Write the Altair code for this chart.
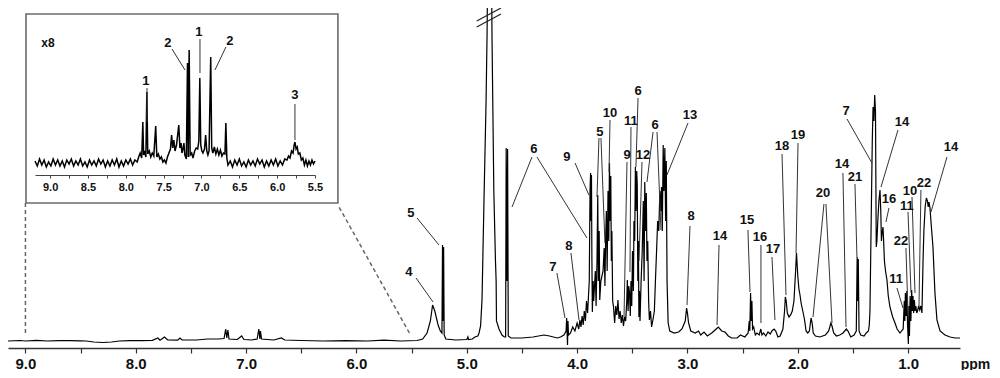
import altair as alt
import pandas as pd

# ---------------- main spectrum: (ppm, relative intensity) ----------------
aromatic = [(9.16,0),(9.05,0.5),(9.0,0),(8.9,0.6),(8.8,0),(8.7,0.4),(8.6,0.3),(8.5,0.2),(8.45,0),(8.38,-1),(8.3,-1.5),
            (8.22,-1),(8.15,0),(8.05,0.3),(7.95,0.4),(7.85,0.6),(7.8,3),(7.78,0.8),(7.74,4),(7.71,1),(7.62,0.8),(7.6,3),
            (7.58,1),(7.45,1),(7.35,2),(7.25,2),(7.2,2.5),(7.185,12),(7.175,3),(7.165,11),(7.155,2),(7.08,1.5),(7.04,5),
            (7.02,1.5),(6.95,1),(6.9,2),(6.885,12),(6.875,2),(6.87,10),(6.86,2),(6.75,1),(6.68,3),(6.65,1),(6.5,0.5),
            (6.3,0),(6.1,0.3),(5.9,0),(5.75,0.8),(5.6,0),(5.45,0.5)]
anomeric = [(5.40,2),(5.36,8),(5.33,20),(5.31,36),(5.29,30),(5.26,16),(5.24,10),(5.225,8),(5.22,96),(5.215,20),
            (5.21,94),(5.205,6),(5.19,2),(5.10,1),(5.0,1.5),(4.99,4),(4.985,1.5),(4.95,2),(4.926,4)]
water = [(4.90,5),(4.889,8),(4.875,15),(4.862,41),(4.844,141),(4.825,241),(4.816,308),(4.807,420),(4.780,420),
         (4.771,300),(4.755,150),(4.740,80),(4.734,60),(4.731,20),(4.708,12),(4.681,6),(4.66,4),(4.648,4),
         (4.643,193),(4.637,60),(4.630,192),(4.624,5),(4.60,3)]
sugar = [(4.5,3),(4.4,4),(4.3,6),(4.25,5),(4.18,3),(4.15,4),(4.12,6),
         (4.10,10),(4.095,23),(4.09,5),(4.087,-4),(4.083,20),(4.078,6),(4.06,8),(4.04,14),(4.02,10),(4.0,18),
         (3.985,12),(3.975,21),(3.965,14),(3.955,25),(3.945,16),(3.935,30),(3.925,20),(3.915,40),(3.905,28),
         (3.89,60),(3.883,150),(3.878,168),(3.874,120),(3.87,166),(3.866,80),(3.862,29),(3.855,60),(3.85,40),
         (3.835,70),(3.828,35),(3.82,80),(3.813,146),(3.808,60),(3.80,110),(3.795,41),(3.785,60),
         (3.765,70),(3.755,93),(3.748,55),(3.742,100),
         (3.735,130),(3.728,70),(3.72,150),(3.713,100),(3.707,178),(3.70,120),(3.695,165),(3.69,80),(3.685,110),
         (3.678,40),(3.67,34),(3.66,18),(3.65,35),(3.64,26),(3.63,41),(3.62,22),(3.61,30),(3.60,18),(3.59,26),
         (3.58,15),(3.57,24),(3.56,20),
         (3.55,40),(3.545,61),(3.538,30),(3.532,55),(3.525,48),(3.518,25),(3.512,60),(3.505,35),(3.498,90),
         (3.49,50),(3.485,120),
         (3.478,100),(3.472,174),(3.466,130),(3.46,170),(3.455,156),(3.45,60),(3.445,100),(3.44,24),(3.435,50),
         (3.43,20),
         (3.42,60),(3.41,90),(3.40,140),(3.393,60),(3.387,159),(3.38,110),(3.373,148),(3.367,80),(3.36,100),
         (3.352,40),(3.345,21),(3.335,30),(3.325,14),(3.315,20),(3.30,30),
         (3.29,61),(3.28,90),(3.27,120),(3.26,110),(3.25,150),(3.242,130),(3.235,154),(3.228,110),(3.22,196),
         (3.213,150),(3.205,193),(3.198,120),(3.192,180),(3.185,60),(3.175,18),(3.16,10)]
aliphatic = [(3.12,8),(3.08,9),(3.05,12),(3.02,20),(3.008,33),(3.0,28),(2.99,18),(2.97,10),(2.93,8),(2.90,10),
             (2.88,6),(2.85,9),(2.82,5),(2.78,8),(2.75,11),(2.72,14),(2.69,10),(2.66,9),(2.63,5),(2.60,3),(2.55,3),
             (2.52,6),(2.48,4),
             (2.45,8),(2.44,20),(2.435,10),(2.428,48),(2.422,20),(2.416,40),(2.41,12),(2.40,14),(2.385,6),(2.37,8),
             (2.35,6),(2.335,12),(2.325,6),(2.31,8),(2.29,5),(2.27,9),(2.25,7),(2.235,10),(2.215,12),(2.20,10),
             (2.18,4),(2.16,5),
             (2.135,12),(2.12,30),(2.113,44),(2.105,40),(2.095,28),(2.08,24),(2.065,26),(2.05,30),(2.035,40),
             (2.02,70),(2.012,88),(2.0,65),(1.99,52),(1.98,46),(1.97,38),(1.955,30),(1.94,22),(1.925,10),(1.91,8),
             (1.895,10),(1.88,23),(1.87,18),(1.86,8),(1.84,5),(1.80,4),(1.75,6),(1.72,10),(1.70,18),(1.69,15),
             (1.675,8),(1.65,5),(1.62,6),(1.59,8),(1.56,12),(1.545,10),(1.52,4),(1.49,6),(1.47,10),(1.462,84),
             (1.457,40),(1.452,82),(1.445,10),(1.43,6),(1.40,5),(1.38,8),
             (1.36,10),(1.352,16),(1.346,30),(1.335,120),(1.325,200),(1.318,234),(1.31,220),(1.303,246),(1.296,230),
             (1.289,94),(1.283,100),(1.275,120),(1.265,140),(1.255,151),(1.248,130),(1.242,100),(1.236,108),
             (1.228,114),(1.222,100),(1.215,80),(1.205,70),(1.192,61),(1.18,45),(1.165,34),(1.14,24),(1.119,18),
             (1.10,12),(1.074,8),(1.06,10),
             (1.045,12),(1.035,40),(1.03,20),(1.025,48),(1.018,25),(1.012,50),(1.005,15),(0.998,-3),(0.993,35),
             (0.988,5),(0.982,45),(0.975,20),(0.968,51),(0.962,30),(0.956,45),(0.95,28),(0.943,41),(0.937,30),
             (0.93,35),(0.922,28),(0.915,30),(0.905,35),(0.895,31),(0.885,35),(0.875,28),(0.865,80),(0.857,111),
             (0.845,135),(0.835,143),(0.825,140),(0.818,134),(0.811,139),(0.802,133),(0.79,115),(0.775,94),
             (0.757,48),(0.739,21),(0.711,10),(0.666,6),(0.62,4),(0.575,3),(0.53,3)]

# ---------------- inset (x8) spectrum ----------------
inset_left = [(9.20,2),(9.17,-3),(9.14,4),(9.11,-2),(9.08,3),(9.05,-4),(9.02,1),(8.99,-3),(8.96,4),(8.93,-2),
              (8.90,3),(8.87,-3),(8.84,2),(8.81,-4),(8.78,3),(8.75,-1),(8.72,4),(8.69,-3),(8.66,2),(8.63,-2),
              (8.60,4),(8.57,-3),(8.54,1),(8.51,-4),(8.48,3),(8.45,-2),(8.42,2),(8.39,-3),(8.36,4),(8.33,-1),
              (8.30,3),(8.27,-4),(8.24,2),(8.21,-3),(8.18,3),(8.15,-2),(8.12,4),(8.09,-4),(8.06,2),(8.03,-3),
              (8.00,3),(7.97,-1),(7.94,4),(7.91,-2),(7.88,3),(7.85,1)]
inset_peaks = [(7.83,6),(7.81,10),(7.79,5),(7.775,41),(7.765,8),(7.75,12),(7.735,6),(7.722,71),(7.71,9),(7.69,12),
               (7.67,6),(7.65,10),(7.63,7),(7.605,37),(7.59,6),(7.57,9),(7.55,4),(7.53,6),(7.51,1),(7.49,3),
               (7.47,0),(7.45,6),(7.43,10),(7.41,14),(7.395,28),(7.38,15),(7.365,23),(7.35,12),(7.33,18),(7.30,38),
               (7.285,15),(7.27,20),(7.258,10),(7.245,14),(7.232,20),(7.22,8),(7.20,4),(7.185,100),(7.175,6),
               (7.163,113),(7.15,8),(7.13,10),(7.113,5),(7.09,12),(7.07,15),(7.05,14),(7.035,22),(7.022,85),
               (7.01,18),(6.995,12),(6.981,10),(6.96,14),(6.945,28),(6.93,12),(6.915,8),(6.90,12),(6.878,106),
               (6.865,15),(6.85,10),(6.83,16),(6.81,9),(6.79,14),(6.77,8),(6.75,13),(6.73,7),(6.71,10),(6.69,9),
               (6.678,40),(6.665,5),(6.65,-2)]
inset_right = [(6.62,2),(6.59,-4),(6.56,3),(6.53,-2),(6.50,4),(6.47,-3),(6.44,1),(6.41,-4),(6.38,3),(6.35,-2),
               (6.32,2),(6.29,-3),(6.26,4),(6.23,-1),(6.20,3),(6.17,-4),(6.14,2),(6.11,-3),(6.08,3),(6.05,-2),
               (6.02,4),(5.99,-3),(5.96,2),(5.93,-2),(5.90,4),(5.87,3),(5.85,7),(5.83,5),(5.81,12),(5.79,10),
               (5.775,18),(5.765,21),(5.75,14),(5.735,16),(5.72,9),(5.70,10),(5.68,3),(5.66,5),(5.64,-2),(5.62,3),
               (5.60,-3),(5.58,2),(5.56,-2),(5.54,3),(5.52,-1),(5.50,2)]

# ---------------- peak annotations (main) ----------------
labels = ["4","5","6","9","5","10","7","8","11","9","6","12","6","13","8","14","15","16","17","18","19","20",
          "14","21","7","14","16","10","22","11","22","11","14"]
label_ppm = [5.524,5.506,4.391,4.092,3.793,3.702,4.219,4.074,3.512,3.548,3.448,3.403,3.294,2.977,2.968,2.705,
             2.461,2.343,2.225,2.143,1.998,1.772,1.600,1.482,1.563,1.056,1.174,0.983,0.856,1.011,1.065,1.110,0.612]
label_int = [69,128,192,184,209,228,74,95,220,186,250,186,216,226,125,105,121,104,92,195,206,148,177,164,230,
             219,142,150,158,135,100,62,194]
lead_x1 = [5.460,5.451,4.409,4.364,4.019,3.802,3.784,3.702,4.183,4.056,3.512,3.548,3.448,3.412,3.312,3.276,2.995,
           2.977,2.714,2.452,2.334,2.234,2.143,1.998,1.763,1.745,1.591,1.482,1.554,1.092,1.174,0.965,0.884,1.001,
           1.020,1.101,0.648]
lead_y1 = [63,123,184,184,178,203,203,221,68,88,214,179,243,179,209,209,218,115,96,111,96,84,187,198,137,137,168,
           157,222,211,133,144,151,129,93,53,184]
lead_x2 = [5.306,5.252,4.590,3.911,3.893,3.820,3.748,3.711,4.110,3.983,3.521,3.575,3.467,3.439,3.367,3.240,3.186,
           3.004,2.732,2.433,2.334,2.207,2.107,2.016,1.862,1.690,1.563,1.464,1.328,1.246,1.201,0.938,0.902,0.974,
           1.001,1.047,0.793]
lead_y2 = [39,96,134,103,146,144,98,169,23,21,69,24,174,80,159,111,166,36,16,49,18,21,46,88,24,18,14,84,178,154,
           119,48,33,48,28,33,129]

# ---------------- inset annotations ----------------
ins_labels = ["1","2","1","2","3"]
ins_lab_ppm = [7.734,7.443,7.034,6.624,5.765]
ins_lab_int = [82,120,131,122,68]
ins_lead_x1 = [7.720,7.390,7.020,6.677,5.765]
ins_lead_y1 = [75,114,124,116,59]
ins_lead_x2 = [7.720,7.218,7.020,6.822,5.765]
ins_lead_y2 = [41,93,90,93,23]

# inset frame and connectors (main-scale units)
box_ppm = [8.995, 6.168]
box_int = [138, 327]
conn_x1 = [9.0, 5.52]
conn_y1 = [8, 8]
conn_x2 = [9.0, 6.168]
conn_y2 = [138, 136]
# axis-break marks on the truncated water peak
brk_x1 = [4.91, 4.91]
brk_y1 = [320, 314]
brk_x2 = [4.69, 4.69]
brk_y2 = [333, 327]

main_ticks = [9.0,8.5,8.0,7.5,7.0,6.5,6.0,5.5,5.0,4.5,4.0,3.5,3.0,2.5,2.0,1.5,1.0]
inset_ticks = [9.0,8.75,8.5,8.25,8.0,7.75,7.5,7.25,7.0,6.75,6.5,6.25,6.0,5.75,5.5]

FONT = "Liberation Sans"
W, H = 952, 340

spectrum = aromatic + anomeric + water + sugar + aliphatic
spec_df = pd.DataFrame({"x": [p for p, _ in spectrum], "y": [v for _, v in spectrum],
                        "i": list(range(len(spectrum)))})
inset = inset_left + inset_peaks + inset_right
ins_df = pd.DataFrame({"x": [p for p, _ in inset], "y": [v for _, v in inset], "i": list(range(len(inset)))})

xs = alt.Scale(domain=[0.53, 9.158], reverse=True, nice=False, zero=False)
ys = alt.Scale(domain=[-7, 333], nice=False, zero=False)
xaxis = alt.Axis(values=main_ticks, labelExpr="datum.value % 1 === 0 ? format(datum.value, '.1f') : ''",
                 title="ppm", titleX=967, titleY=16, titleAlign="center", titleBaseline="middle",
                 titleFont=FONT, titleFontSize=14, titleFontWeight="bold", titleColor="#111",
                 labelFont=FONT, labelFontSize=15, labelFontWeight="bold", labelColor="#111",
                 labelPadding=3, labelFlush=False, labelOverlap=False, tickSize=5, tickWidth=1.2,
                 tickColor="#333", domainColor="#333", domainWidth=1.6, grid=False)

ixs = alt.Scale(domain=[5.5, 9.2], range=[307, 27], nice=False, zero=False)
iys = alt.Scale(domain=[-12, 149], range=[167, 6], nice=False, zero=False)
ixaxis = alt.Axis(orient="bottom", offset=-173, values=inset_ticks, zindex=2,
                  labelExpr="datum.value % 0.5 === 0 ? format(datum.value, '.1f') : ''",
                  title=None, labelFont=FONT, labelFontSize=11, labelFontWeight="bold", labelColor="#111",
                  labelPadding=3, labelFlush=False, labelOverlap=False, tickSize=3, tickColor="#444",
                  domainColor="#444", domainWidth=1.2, grid=False)

def X(f="x"):
    return alt.X(f"{f}:Q", scale=xs, axis=xaxis)

def Y(f="y"):
    return alt.Y(f"{f}:Q", scale=ys, axis=None)

spec_line = alt.Chart(spec_df).mark_line(color="black", strokeWidth=1.2, clip=True).encode(
    x=X(), y=Y(), order="i:Q")

box_df = pd.DataFrame({"x": [box_ppm[0]], "x2": [box_ppm[1]], "y": [box_int[0]], "y2": [box_int[1]]})
box = alt.Chart(box_df).mark_rect(fill="white", stroke="#6b6b6b", strokeWidth=1.6).encode(
    x=X(), x2="x2:Q", y=Y(), y2="y2:Q")

conn_df = pd.DataFrame({"x": conn_x1, "y": conn_y1, "x2": conn_x2, "y2": conn_y2})
conn = alt.Chart(conn_df).mark_rule(color="#666", strokeWidth=1.5, strokeDash=[4, 3]).encode(
    x=X(), x2="x2:Q", y=Y(), y2="y2:Q")

brk_df = pd.DataFrame({"x": brk_x1, "y": brk_y1, "x2": brk_x2, "y2": brk_y2})
brk = alt.Chart(brk_df).mark_rule(color="#222", strokeWidth=1.2).encode(
    x=X(), x2="x2:Q", y=Y(), y2="y2:Q")

lead_df = pd.DataFrame({"x": lead_x1, "y": lead_y1, "x2": lead_x2, "y2": lead_y2})
leads = alt.Chart(lead_df).mark_rule(color="#333", strokeWidth=1).encode(
    x=X(), x2="x2:Q", y=Y(), y2="y2:Q")

lab_df = pd.DataFrame({"x": label_ppm, "y": label_int, "t": labels})
labs = alt.Chart(lab_df).mark_text(font=FONT, fontSize=13, fontWeight="bold", color="#111",
                                   align="center", baseline="middle").encode(x=X(), y=Y(), text="t:N")

main = alt.layer(spec_line, box, conn, brk, leads, labs)

def IX(f="x"):
    return alt.X(f"{f}:Q", scale=ixs, axis=ixaxis)

def IY(f="y"):
    return alt.Y(f"{f}:Q", scale=iys, axis=None)

ins_line = alt.Chart(ins_df).mark_line(color="black", strokeWidth=1.5).encode(x=IX(), y=IY(), order="i:Q")
ins_lead_df = pd.DataFrame({"x": ins_lead_x1, "y": ins_lead_y1, "x2": ins_lead_x2, "y2": ins_lead_y2})
ins_leads = alt.Chart(ins_lead_df).mark_rule(color="#333", strokeWidth=1).encode(
    x=IX(), x2="x2:Q", y=IY(), y2="y2:Q")
ins_lab_df = pd.DataFrame({"x": ins_lab_ppm + [9.028], "y": ins_lab_int + [120], "t": ins_labels + ["x8"],
                           "s": [13, 13, 13, 13, 13, 12]})
ins_labs = alt.Chart(ins_lab_df).mark_text(font=FONT, fontWeight="bold", color="#111",
                                           align="center", baseline="middle").encode(
    x=IX(), y=IY(), text="t:N", size=alt.Size("s:Q", scale=None, legend=None))

inset_layer = alt.layer(ins_line, ins_leads, ins_labs)

chart = alt.layer(main, inset_layer).resolve_scale(x="independent", y="independent").properties(
    width=W, height=H,
    autosize=alt.AutoSizeParams(type="none"),
    padding={"left": 0, "top": 0, "right": 32, "bottom": 22},
).configure_view(stroke=None)

chart.save("out.html", embed_options={"renderer": "svg", "actions": False})
